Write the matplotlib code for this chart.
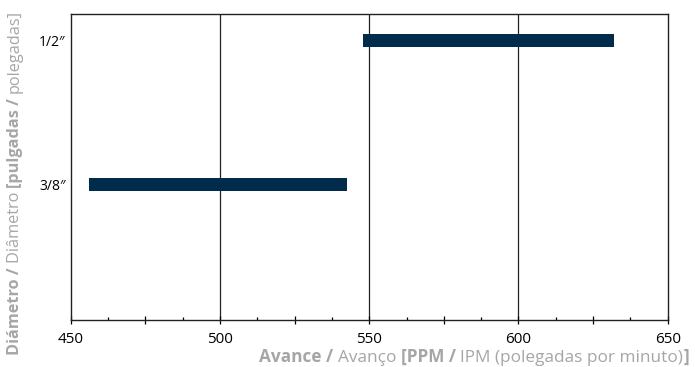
import numpy as np
import matplotlib.pyplot as plt
from matplotlib.ticker import MultipleLocator

plt.rcParams['font.family'] = ['Open Sans', 'DejaVu Sans']

diameters = ["3/8\u2033", "1/2\u2033"]
feed_min = [456, 548]
feed_max = [542.5, 632]

bar_color = "#002b4b"
label_color = "#a6a6a6"

fig = plt.figure(figsize=(6.95, 3.67), dpi=100)
ax = fig.add_axes([70.7 / 695, 1 - 319.5 / 367, (667.7 - 70.7) / 695, (319.5 - 14) / 367])

ypos = np.arange(len(diameters))
ax.barh(ypos, np.array(feed_max) - np.array(feed_min), left=feed_min,
        height=0.09, color=bar_color, zorder=3)

ax.set_xlim(450, 650)
ax.set_ylim(-0.93, 1.18)

ax.set_yticks(ypos)
ax.set_yticklabels(diameters, fontsize=10)
ax.tick_params(axis="y", length=0, pad=3.5)

ax.xaxis.set_major_locator(MultipleLocator(25))
ax.xaxis.set_minor_locator(MultipleLocator(12.5))
ax.set_xticklabels([str(int(v)) if v % 50 == 0 else "" for v in ax.get_xticks()])
ax.tick_params(axis="x", which="major", direction="inout", length=6, width=0.9, labelsize=11, pad=6)
ax.tick_params(axis="x", which="minor", direction="in", length=2, width=0.9)

for v in [500, 550, 600]:
    ax.axvline(v, color="#222222", lw=0.9, zorder=1)

for s in ax.spines.values():
    s.set_linewidth(1.0)
    s.set_color("#222222")

fig.canvas.draw()
renderer = fig.canvas.get_renderer()


def rich_text(pieces, x, y, size, rotation=0):
    # pieces drawn one after another; x, y in figure pixels
    widths = []
    objs = []
    for txt, weight in pieces:
        t = fig.text(0, 0, txt, fontsize=size, fontweight=weight, color=label_color,
                     rotation=rotation, ha="left", va="baseline")
        bb = t.get_window_extent(renderer)
        widths.append(bb.width if rotation == 0 else bb.height)
        objs.append(t)
    total = sum(widths)
    pos = 0
    for t, w in zip(objs, widths):
        if rotation == 0:
            t.set_position(((x - total + pos) / 695, y / 367))
        else:
            t.set_position((x / 695, (y + pos) / 367))
            t.set_va("bottom")
        pos += w


xlabel = [("Avance / ", "bold"), ("Avanço ", "normal"), ("[PPM / ", "bold"),
          ("IPM (polegadas por minuto)", "normal"), ("]", "bold")]
rich_text(xlabel, 689, 367 - 362, 12.4)

ylabel = [("Diámetro / ", "bold"), ("Diâmetro ", "normal"), ("[pulgadas / ", "bold"),
          ("polegadas]", "normal")]
rich_text(ylabel, 7, 367 - 355, 11.7, rotation=90)

fig.savefig("out.png", dpi=100)
